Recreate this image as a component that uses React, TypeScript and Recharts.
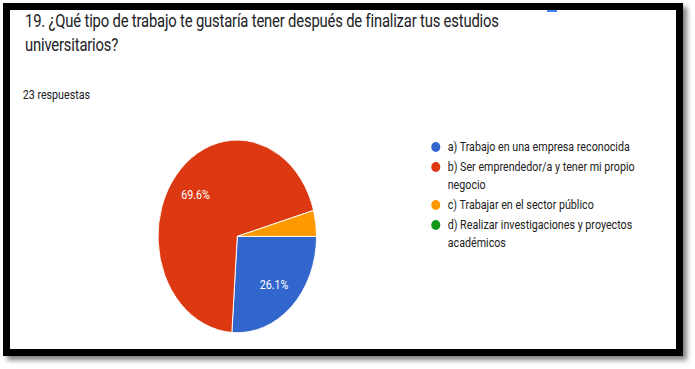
import React from 'react';
import { PieChart, Pie, Cell, Legend } from 'recharts';

const categories = [
  'a) Trabajo en una empresa reconocida',
  'b) Ser emprendedor/a y tener mi propio negocio',
  'c) Trabajar en el sector público',
  'd) Realizar investigaciones y proyectos académicos',
];
const responses = [6, 16, 1, 0];
const colors = ['#3366cc', '#dc3912', '#ff9900', '#109618'];
const titleText = '19. ¿Qué tipo de trabajo te gustaría tener después de finalizar tus estudios universitarios?';
const subtitleText = '23 respuestas';

const data = categories.map((name, i) => ({ name, value: responses[i] }));

const SX = 0.823;
const W = 845;
const H = 369;
const RAD = Math.PI / 180;
const FONT = 'Roboto, "Noto Sans", sans-serif';

const renderLabel = (props: any) => {
  const { cx, cy, midAngle, outerRadius, percent } = props;
  if (percent < 0.05) return null;
  const r = outerRadius * 0.68;
  const x = cx + r * Math.cos(-midAngle * RAD);
  const y = cy + r * Math.sin(-midAngle * RAD);
  return (
    <text x={x} y={y} fill="#ffffff" fontSize={13} fontFamily={FONT} textAnchor="middle" dominantBaseline="central">
      {(percent * 100).toFixed(1)}%
    </text>
  );
};

const renderLegend = () => (
  <div style={{ fontFamily: FONT, fontSize: 13, color: '#222222', width: 290 }}>
    {categories.map((c, i) => (
      <div key={i} style={{ display: 'flex', alignItems: 'flex-start', marginBottom: 2, lineHeight: '18px' }}>
        <span
          style={{
            width: 11,
            height: 10,
            borderRadius: '50%',
            background: colors[i],
            marginTop: 4,
            marginRight: 9,
            flex: 'none',
            display: 'inline-block',
          }}
        />
        <span style={{ width: 245 }}>{c}</span>
      </div>
    ))}
  </div>
);

export default function App() {
  return (
    <div style={{ position: 'absolute', left: 0, top: 0, width: 695, height: 369, background: '#fff', overflow: 'hidden' }}>
      <div
        style={{
          position: 'absolute',
          left: 3,
          top: 3,
          width: 680,
          height: 353,
          border: '7px solid #000',
          boxSizing: 'border-box',
          background: '#fff',
          boxShadow: '4px 4px 5px rgba(0,0,0,0.5)',
        }}
      />
      <div style={{ position: 'absolute', left: 547, top: 10, width: 10, height: 2, background: '#4285f4' }} />
      <div
        style={{
          position: 'absolute',
          left: 0,
          top: 0,
          width: W,
          height: H,
          transform: `scaleX(${SX})`,
          transformOrigin: '0 0',
        }}
      >
        <div
          style={{
            position: 'absolute',
            left: 30.4,
            top: 8.8,
            width: 640,
            fontFamily: FONT,
            fontSize: 18,
            letterSpacing: '-0.22px',
            lineHeight: '24px',
            color: '#202124',
          }}
        >
          {titleText}
        </div>
        <div
          style={{
            position: 'absolute',
            left: 27.6,
            top: 86,
            fontFamily: FONT,
            fontSize: 13,
            lineHeight: '18px',
            color: '#202124',
          }}
        >
          {subtitleText}
        </div>
        <PieChart width={W} height={H} margin={{ top: 0, right: 0, bottom: 0, left: 0 }}>
          <Pie
            data={data}
            dataKey="value"
            nameKey="name"
            cx={288.3}
            cy={236.4}
            outerRadius={96.3}
            startAngle={0}
            endAngle={-360}
            stroke="#ffffff"
            strokeWidth={1}
            label={renderLabel}
            labelLine={false}
            isAnimationActive={false}
          >
            {data.map((d, i) => (
              <Cell key={i} fill={colors[i]} />
            ))}
          </Pie>
          <Legend
            content={renderLegend}
            layout="vertical"
            align="right"
            verticalAlign="top"
            wrapperStyle={{ left: 524, top: 138, right: 'auto', width: 290 }}
          />
        </PieChart>
      </div>
    </div>
  );
}
